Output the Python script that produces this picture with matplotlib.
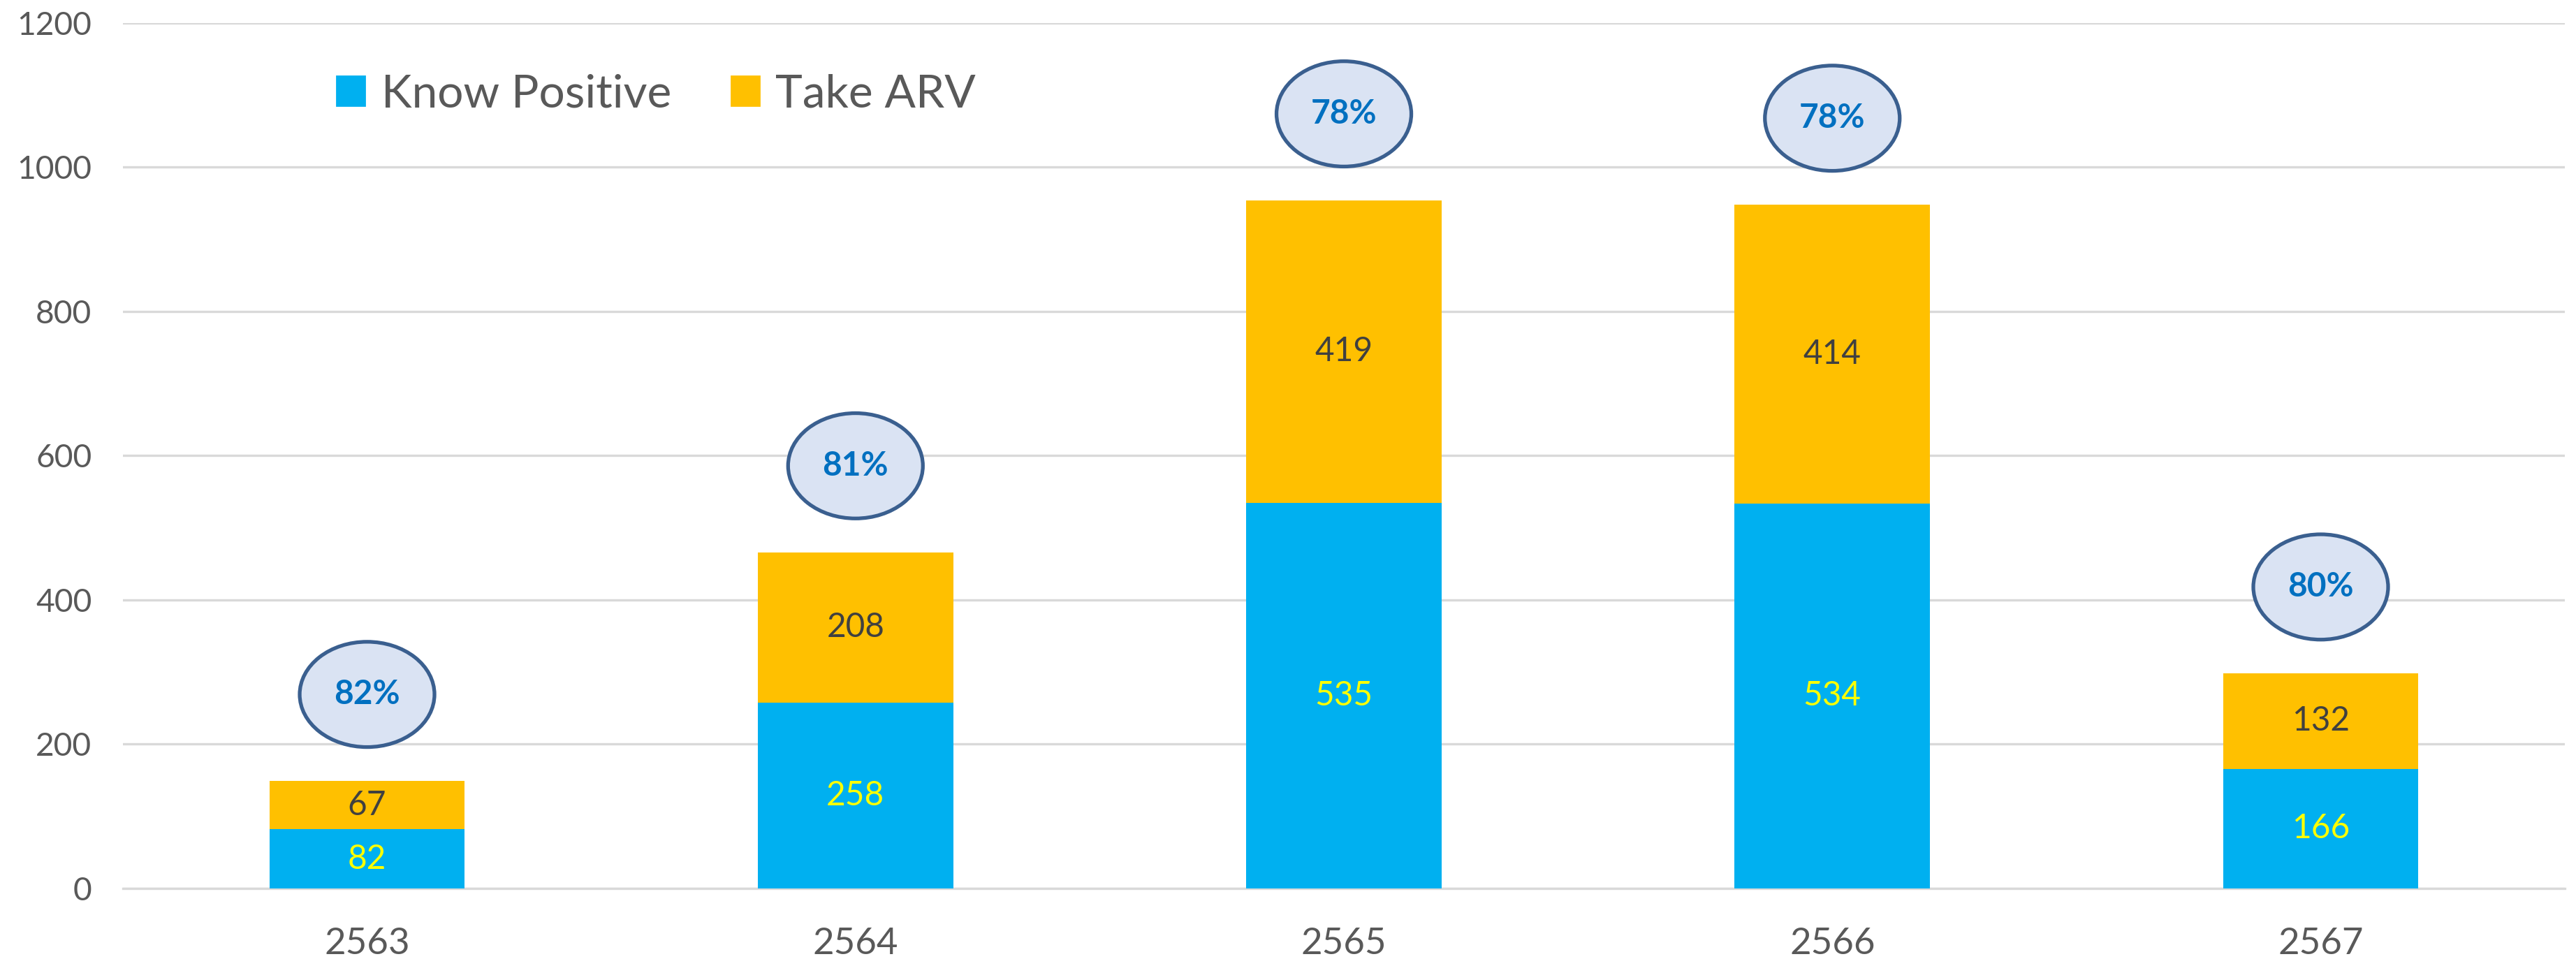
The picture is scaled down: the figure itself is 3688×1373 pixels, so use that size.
import matplotlib
matplotlib.use('Agg')

import matplotlib.pyplot as plt
from matplotlib.patches import Ellipse, Patch

# data
years = ['2563', '2564', '2565', '2566', '2567']
know_positive = [82, 258, 535, 534, 166]
take_arv = [67, 208, 419, 414, 132]
pct_labels = ['82%', '81%', '78%', '78%', '80%']

blue = '#00B0F0'
gold = '#FFC000'
grey_txt = '#595959'

plt.rcParams['font.family'] = ['Lato', 'DejaVu Sans']

fig = plt.figure(figsize=(18.44, 6.865), dpi=200)
ax = fig.add_axes([0.0477, 0.0736, 0.948, 0.9024])

x = list(range(len(years)))
totals = [k + t for k, t in zip(know_positive, take_arv)]

ax.bar(x, know_positive, width=0.4, color=blue, zorder=3)
ax.bar(x, take_arv, width=0.4, bottom=know_positive, color=gold, zorder=3)

# values inside the bars
for i in x:
    ax.text(i, know_positive[i] / 2, str(know_positive[i]), ha='center', va='center',
            fontsize=17.2, color='#FFFF00', zorder=4)
    ax.text(i, know_positive[i] + take_arv[i] / 2, str(take_arv[i]), ha='center', va='center',
            fontsize=17.2, color='#404040', zorder=4)

# percentage bubbles above the bars
for i in x:
    yc = totals[i] + 120
    ax.add_patch(Ellipse((i, yc), 0.276, 146, facecolor='#DAE3F3', edgecolor='#3A5F8F',
                         linewidth=1.9, zorder=5))
    ax.text(i, yc, pct_labels[i], ha='center', va='center', fontsize=17.2,
            fontweight='bold', color='#0070C0', zorder=6)

# axis styling
ax.set_xlim(-0.5, 4.5)
ax.set_ylim(0, 1200)
ax.set_yticks(range(0, 1201, 200))
ax.set_xticks(x)
ax.set_xticklabels(years)
ax.tick_params(axis='x', length=0, pad=20, labelsize=19, labelcolor=grey_txt)
ax.tick_params(axis='y', length=0, pad=16, labelsize=16.6, labelcolor=grey_txt)
ax.grid(axis='y', color='#D9D9D9', linewidth=1.2, zorder=0)
for s in ['top', 'right', 'left']:
    ax.spines[s].set_visible(False)
ax.spines['bottom'].set_color('#D9D9D9')
ax.spines['bottom'].set_linewidth(1.2)

handles = [Patch(color=blue, label='Know Positive'), Patch(color=gold, label='Take ARV')]
ax.legend(handles=handles, loc='center left', bbox_to_anchor=(0.0875, 0.918), ncol=2,
          frameon=False, fontsize=23.7, handlelength=0.61, handleheight=0.61,
          handletextpad=0.36, columnspacing=1.3, borderpad=0, borderaxespad=0,
          labelcolor=grey_txt)

plt.savefig('out.png', dpi=200)
